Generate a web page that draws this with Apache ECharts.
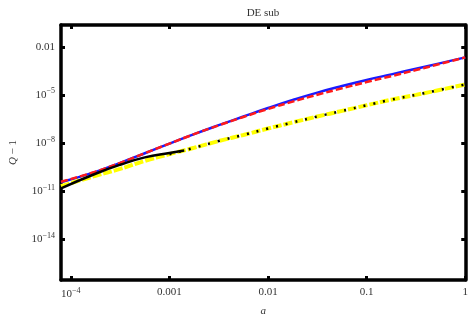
<!DOCTYPE html>
<html><head><meta charset="utf-8">
<script src="https://cdn.jsdelivr.net/npm/echarts@6/dist/echarts.min.js"></script>
<style>html,body{margin:0;padding:0;background:#fff}#c{width:471px;height:322px}</style>
</head><body><div id="c"></div>
<script>
// log10(a) sample positions
const logA = [-4.1,-3.75,-3.5,-3.25,-3.0,-2.75,-2.5,-2.25,-2.0,-1.75,-1.5,-1.25,-1.0,-0.75,-0.5,-0.25,0];
// log10(Q-1) values per series
const blueSolid = [-10.45,-9.8,-9.24,-8.64,-8.04,-7.45,-6.89,-6.35,-5.82,-5.32,-4.86,-4.45,-4.07,-3.72,-3.37,-3.02,-2.66];
const redDashed = [-10.42,-9.79,-9.24,-8.64,-8.04,-7.45,-6.9,-6.38,-5.88,-5.42,-4.99,-4.59,-4.2,-3.83,-3.45,-3.06,-2.66];
const yellowDashDot = [-10.7,-10.05,-9.62,-9.12,-8.7,-8.3,-7.88,-7.5,-7.1,-6.72,-6.35,-6.0,-5.65,-5.3,-5.0,-4.68,-4.35];
const blackDotted = [null,null,null,null,-8.7,-8.3,-7.88,-7.5,-7.1,-6.72,-6.35,-6.0,-5.65,-5.3,-5.0,-4.68,-4.35];
const blackSolidA = [-4.1,-3.75,-3.5,-3.25,-3.0,-2.85];
const blackSolid = [-10.83,-9.92,-9.36,-8.9,-8.62,-8.47];
// ticks
const xTickVals = [-4,-3,-2,-1,0];
const xTickLabels = ['10^−4','0.001','0.01','0.1','1'];
const yTickVals = [-2,-5,-8,-11,-14];
const yTickLabels = ['0.01','10^−5','10^−8','10^−11','10^−14'];

function fmt(lbl){
  if(lbl.indexOf('^')<0) return '{b|'+lbl+'}';
  const p = lbl.split('^');
  return '{b|'+p[0]+'}{s|'+p[1]+'}';
}
const rich = {
  b:{fontFamily:'Liberation Serif',fontSize:11,color:'#333'},
  s:{fontFamily:'Liberation Serif',fontSize:8,color:'#333',padding:[0,0,7,0]}
};
function pairs(xs,ys){return xs.map((x,i)=>[x,ys[i]]);}
const serif='Liberation Serif';
const frameLine={show:true,onZero:false,lineStyle:{color:'#000',width:3.5}};
const chart = echarts.init(document.getElementById('c'),null,{renderer:'canvas'});
chart.setOption({
  animation:false,
  title:{text:'DE sub',left:258,top:3,textAlign:'center',textStyle:{fontFamily:serif,fontSize:11,fontWeight:'normal',color:'#333'}},
  grid:{left:51,right:5,top:25,bottom:40},
  xAxis:[{
    type:'value',min:-4.1,max:0,position:'bottom',
    axisLine:frameLine,splitLine:{show:false},
    axisTick:{show:true,inside:true,length:4,lineStyle:{width:3,color:'#000'},customValues:xTickVals},
    axisLabel:{show:true,margin:7,customValues:xTickVals,formatter:v=>fmt(xTickLabels[xTickVals.indexOf(Math.round(v))]),rich:rich},
    name:'a',nameLocation:'middle',nameGap:26,nameTextStyle:{fontFamily:serif,fontStyle:'italic',fontSize:11,color:'#333'}
  },{
    type:'value',min:-4.1,max:0,position:'top',
    axisLine:frameLine,splitLine:{show:false},
    axisTick:{show:true,inside:true,length:4,lineStyle:{width:3,color:'#000'},customValues:xTickVals},
    axisLabel:{show:false}
  }],
  yAxis:[{
    type:'value',min:-16.55,max:-0.64,position:'left',
    axisLine:frameLine,splitLine:{show:false},
    axisTick:{show:true,inside:true,length:4,lineStyle:{width:3,color:'#000'},customValues:yTickVals},
    axisLabel:{show:true,margin:6,customValues:yTickVals,formatter:v=>fmt(yTickLabels[yTickVals.indexOf(Math.round(v))]),rich:rich},
    name:'{i|Q} − 1',nameLocation:'middle',nameGap:42,nameRotate:90,
    nameTextStyle:{fontFamily:serif,fontSize:11,color:'#333',rich:{i:{fontFamily:serif,fontStyle:'italic',fontSize:11,color:'#333'}}}
  },{
    type:'value',min:-16.55,max:-0.64,position:'right',
    axisLine:frameLine,splitLine:{show:false},
    axisTick:{show:true,inside:true,length:4,lineStyle:{width:3,color:'#000'},customValues:yTickVals},
    axisLabel:{show:false}
  }],
  series:[
    {type:'line',data:pairs(logA,blueSolid),smooth:true,symbol:'none',lineStyle:{color:'#1a1aff',width:2.5},z:2},
    {type:'line',data:pairs(logA,redDashed),smooth:true,symbol:'none',lineStyle:{color:'#ff1a1a',width:2.5,type:[7,3]},z:3},
    {type:'line',data:pairs(logA,yellowDashDot),smooth:true,symbol:'none',lineStyle:{color:'#ffff00',width:4,type:[9,2]},z:4},
    {type:'line',data:pairs(blackSolidA,blackSolid),smooth:true,symbol:'none',lineStyle:{color:'#000',width:2.5},z:5},
    {type:'line',data:pairs(logA,blackDotted),smooth:true,connectNulls:false,symbol:'none',lineStyle:{color:'#000',width:2.5,type:[2,8]},z:6}
  ]
});
</script></body></html>
